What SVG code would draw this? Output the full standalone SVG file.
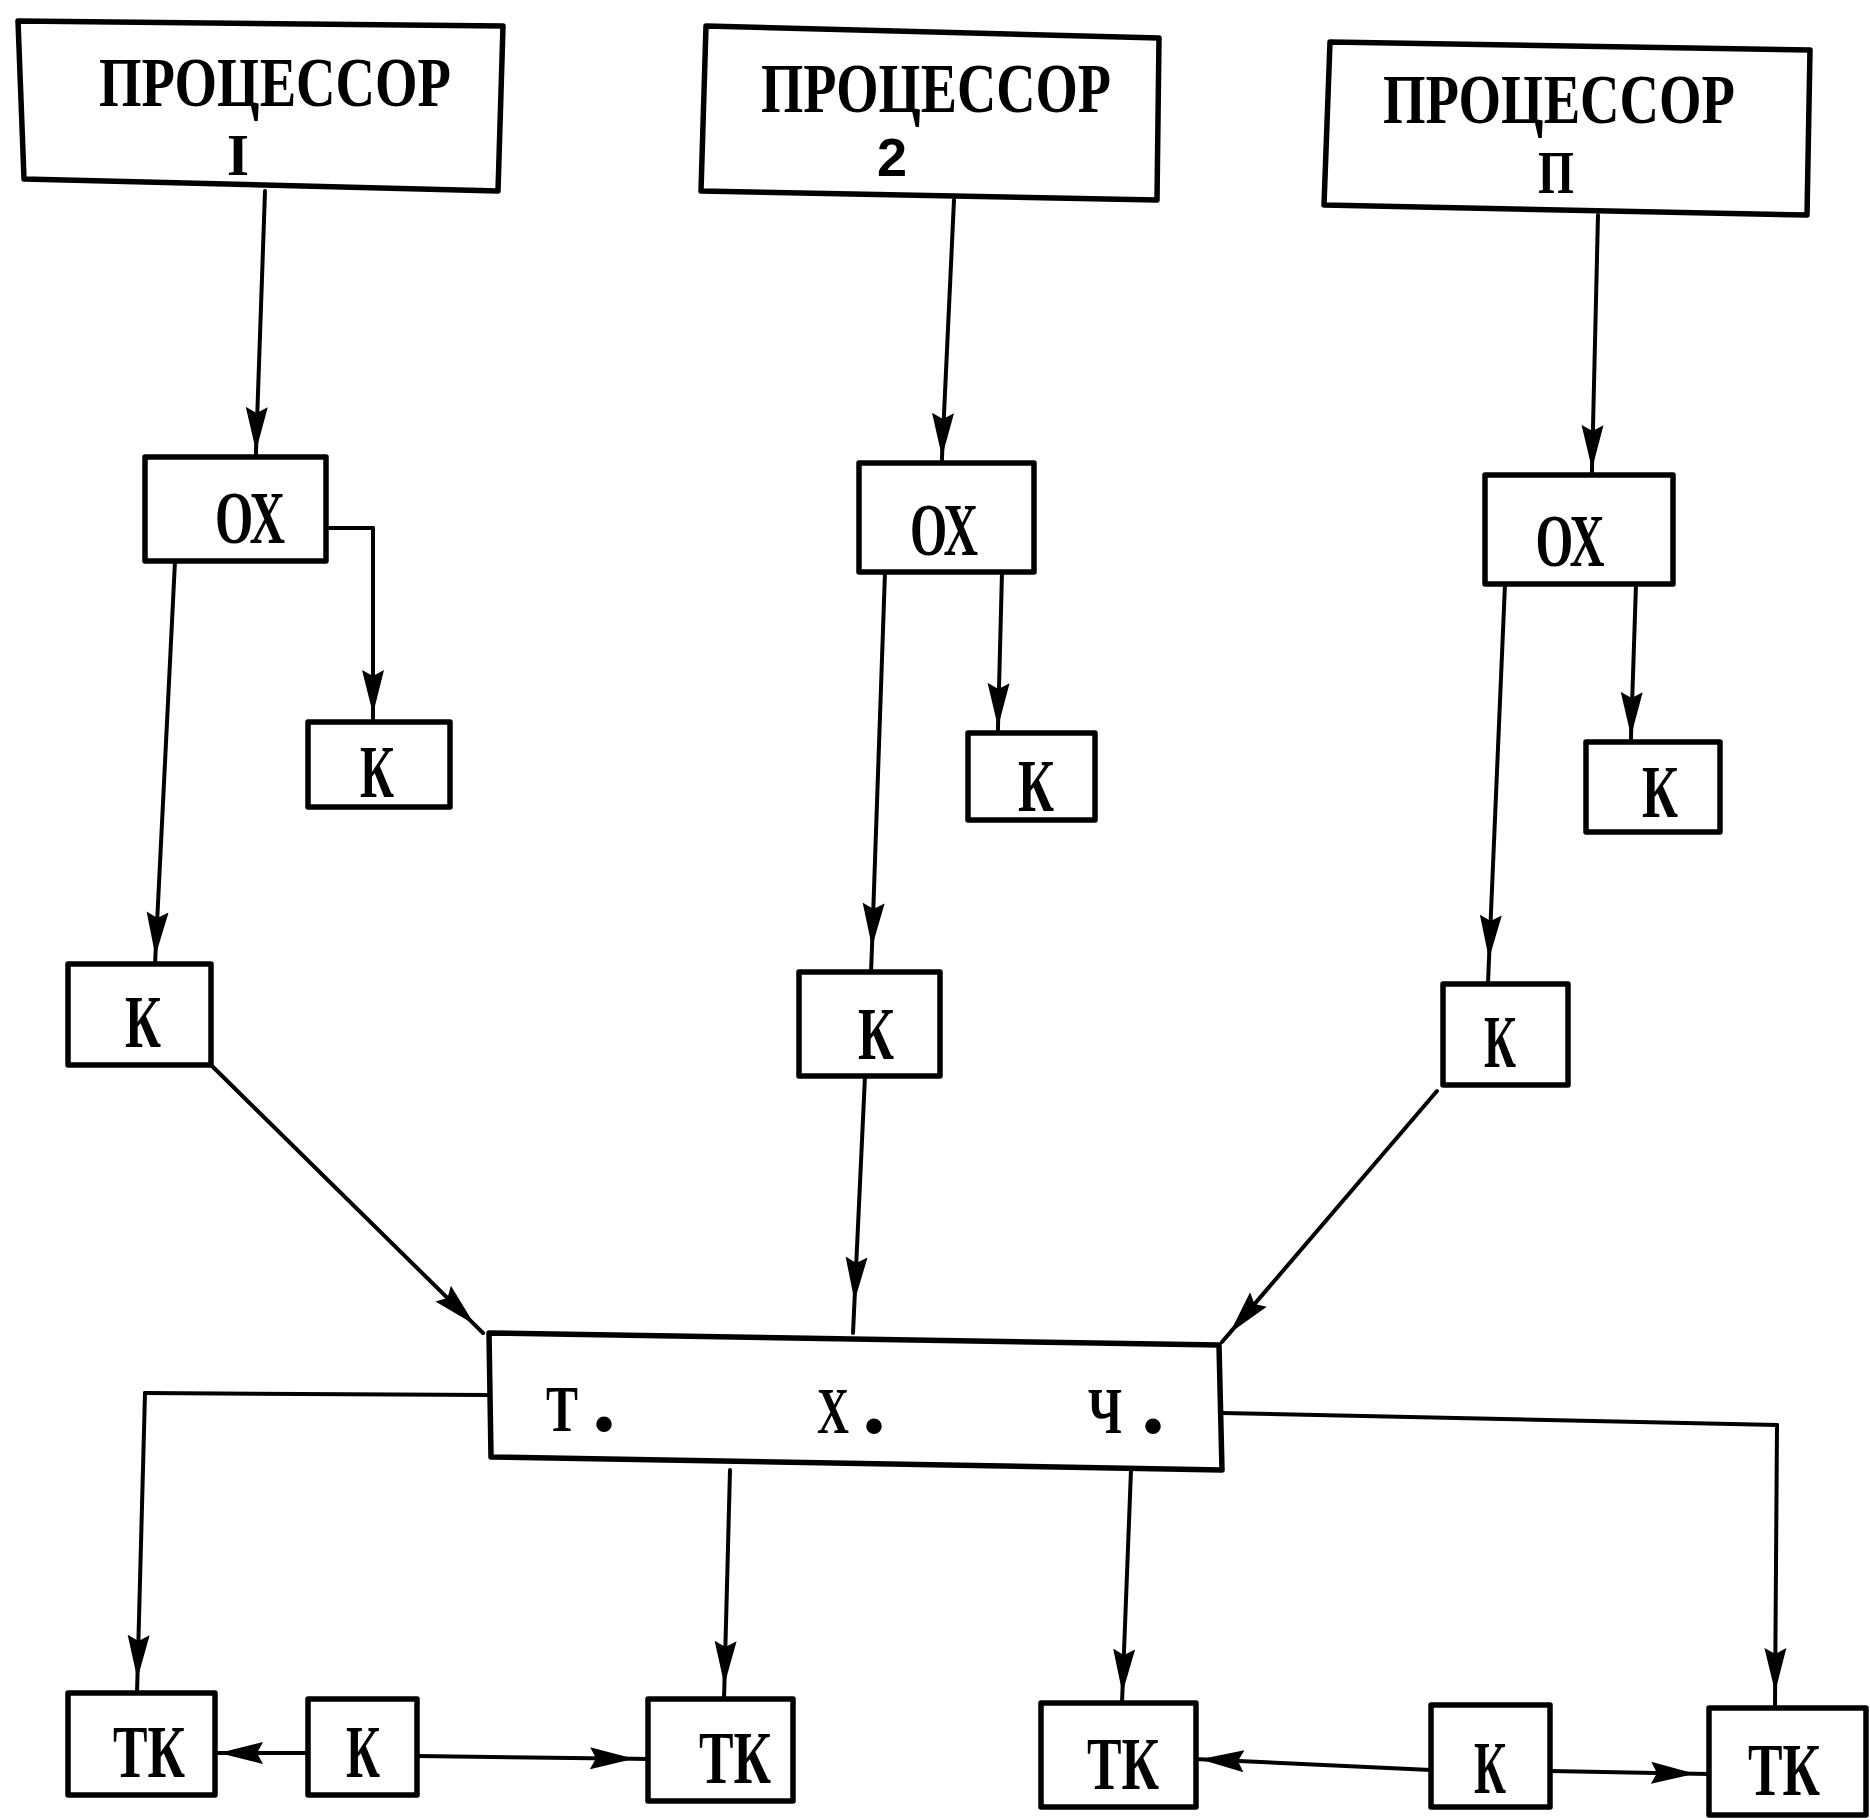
<svg xmlns="http://www.w3.org/2000/svg" width="1870" height="1820" viewBox="0 0 1870 1820">
  <defs>
    <marker id="head" markerUnits="userSpaceOnUse" viewBox="0 -12 44 24" markerWidth="44" markerHeight="24" refX="44" refY="0" orient="auto">
      <path d="M0,-11 L44,0 L0,11 L6,0 Z" fill="#000"/>
    </marker>
    <style>
      .box { fill: #fff; stroke: #000; stroke-width: 5.5; stroke-linejoin: round; }
      .line { fill: none; stroke: #000; stroke-width: 4; stroke-linecap: round; stroke-linejoin: round; }
      .arrow { fill: none; stroke: #000; stroke-width: 4; stroke-linecap: round; marker-mid: url(#head); }
      .lbl { font-family: "Liberation Serif", "DejaVu Serif", serif; font-weight: bold; fill: #000; text-anchor: middle; }
      .big { font-size: 70px; }
      .mid { font-size: 74px; }
      .sw { font-size: 66px; }
      .num { font-family: "Liberation Sans", "DejaVu Sans", sans-serif; font-weight: bold; font-size: 54px; fill: #000; text-anchor: middle; }
      .dot { font-size: 96px; text-anchor: start; }
    </style>
  </defs>

  <!-- processors -->
  <g id="proc1">
    <path class="box" d="M18,21 L503,26 L498,191 L24,179 Z"/>
    <text class="lbl big" x="275" y="106" textLength="352" lengthAdjust="spacingAndGlyphs">ПРОЦЕССОР</text>
    <text class="lbl" font-size="60" x="238" y="175" textLength="22" lengthAdjust="spacingAndGlyphs">I</text>
  </g>
  <g id="proc2">
    <path class="box" d="M706,26 L1159,38 L1157,200 L701,191 Z"/>
    <text class="lbl big" x="936" y="112" textLength="350" lengthAdjust="spacingAndGlyphs">ПРОЦЕССОР</text>
    <text class="num" x="892" y="176">2</text>
  </g>
  <g id="procN">
    <path class="box" d="M1330,42 L1810,50 L1807,215 L1324,205 Z"/>
    <text class="lbl big" x="1559" y="123" textLength="352" lengthAdjust="spacingAndGlyphs">ПРОЦЕССОР</text>
    <text class="lbl" font-size="62" x="1556" y="193" textLength="36" lengthAdjust="spacingAndGlyphs">П</text>
  </g>

  <!-- queues -->
  <g id="ox1">
    <rect class="box" x="145" y="457" width="181" height="104"/>
    <text class="lbl mid" x="250" y="543" textLength="70" lengthAdjust="spacingAndGlyphs">ОХ</text>
  </g>
  <g id="ox2">
    <rect class="box" x="859" y="463" width="175" height="109"/>
    <text class="lbl mid" x="944" y="555" textLength="68" lengthAdjust="spacingAndGlyphs">ОХ</text>
  </g>
  <g id="ox3">
    <rect class="box" x="1485" y="475" width="188" height="109"/>
    <text class="lbl mid" x="1570" y="566" textLength="69" lengthAdjust="spacingAndGlyphs">ОХ</text>
  </g>

  <!-- channels -->
  <g id="k1a">
    <rect class="box" x="308" y="722" width="142" height="85"/>
    <text class="lbl mid" x="377" y="797" textLength="34" lengthAdjust="spacingAndGlyphs">К</text>
  </g>
  <g id="k2a">
    <rect class="box" x="968" y="733" width="127" height="87"/>
    <text class="lbl mid" x="1036" y="811" textLength="36" lengthAdjust="spacingAndGlyphs">К</text>
  </g>
  <g id="k3a">
    <rect class="box" x="1586" y="742" width="134" height="90"/>
    <text class="lbl mid" x="1660" y="817" textLength="36" lengthAdjust="spacingAndGlyphs">К</text>
  </g>
  <g id="k1b">
    <rect class="box" x="68" y="964" width="143" height="101"/>
    <text class="lbl mid" x="143" y="1047" textLength="36" lengthAdjust="spacingAndGlyphs">К</text>
  </g>
  <g id="k2b">
    <rect class="box" x="799" y="972" width="141" height="104"/>
    <text class="lbl mid" x="876" y="1059" textLength="36" lengthAdjust="spacingAndGlyphs">К</text>
  </g>
  <g id="k3b">
    <rect class="box" x="1443" y="984" width="125" height="101"/>
    <text class="lbl mid" x="1500" y="1067" textLength="32" lengthAdjust="spacingAndGlyphs">К</text>
  </g>

  <!-- switch -->
  <g id="switch">
    <path class="box" d="M489,1333 L1219,1345 L1222,1470 L491,1457 Z"/>
    <text class="lbl sw" x="562" y="1431" textLength="32" lengthAdjust="spacingAndGlyphs">Т</text>
    <text class="lbl dot" x="592" y="1431">.</text>
    <text class="lbl sw" x="833" y="1433" textLength="32" lengthAdjust="spacingAndGlyphs">Х</text>
    <text class="lbl dot" x="862" y="1433">.</text>
    <text class="lbl sw" x="1105" y="1433" textLength="34" lengthAdjust="spacingAndGlyphs">Ч</text>
    <text class="lbl dot" x="1141" y="1433">.</text>
  </g>

  <!-- terminal row -->
  <g id="tk1">
    <rect class="box" x="68" y="1693" width="147" height="102"/>
    <text class="lbl mid" x="149" y="1777" textLength="72" lengthAdjust="spacingAndGlyphs">ТК</text>
  </g>
  <g id="kl">
    <rect class="box" x="308" y="1699" width="109" height="96"/>
    <text class="lbl mid" x="363" y="1777" textLength="34" lengthAdjust="spacingAndGlyphs">К</text>
  </g>
  <g id="tk2">
    <rect class="box" x="648" y="1699" width="145" height="102"/>
    <text class="lbl mid" x="735" y="1783" textLength="72" lengthAdjust="spacingAndGlyphs">ТК</text>
  </g>
  <g id="tk3">
    <rect class="box" x="1041" y="1703" width="155" height="104"/>
    <text class="lbl mid" x="1123" y="1789" textLength="72" lengthAdjust="spacingAndGlyphs">ТК</text>
  </g>
  <g id="kr">
    <rect class="box" x="1431" y="1705" width="119" height="102"/>
    <text class="lbl mid" x="1490" y="1793" textLength="32" lengthAdjust="spacingAndGlyphs">К</text>
  </g>
  <g id="tk4">
    <rect class="box" x="1709" y="1708" width="157" height="107"/>
    <text class="lbl mid" x="1784" y="1795" textLength="72" lengthAdjust="spacingAndGlyphs">ТК</text>
  </g>

  <!-- connectors -->
  <g id="connectors">
    <path class="arrow" d="M265,191 L256,451 L256,457"/>
    <path class="arrow" d="M954,200 L942,457 L942,463"/>
    <path class="arrow" d="M1598,215 L1592,469 L1592,475"/>

    <path class="line" d="M326,528 L373,528"/>
    <path class="arrow" d="M373,528 L373,714 L373,722"/>
    <path class="arrow" d="M175,561 L155.4,956 L155,964"/>
    <path class="arrow" d="M1002,572 L998,727 L998,733"/>
    <path class="arrow" d="M885,572 L872,947 L871,972"/>
    <path class="arrow" d="M1636,584 L1631,736 L1631,742"/>
    <path class="arrow" d="M1505,584 L1489,959 L1488,984"/>

    <path class="arrow" d="M211,1065 L474.5,1324.6 L483,1333"/>
    <path class="arrow" d="M865,1076 L854.5,1301 L853,1333"/>
    <path class="arrow" d="M1437,1091 L1229.8,1332.9 L1222,1342"/>

    <path class="line" d="M489,1395 L145,1393"/>
    <path class="arrow" d="M145,1393 L137.4,1679 L137,1693"/>
    <path class="arrow" d="M730,1470 L724.4,1685 L724,1699"/>
    <path class="arrow" d="M1131,1470 L1122.4,1693 L1122,1703"/>
    <path class="line" d="M1222,1413 L1777,1425"/>
    <path class="arrow" d="M1777,1425 L1775.1,1692 L1775,1708"/>

    <path class="arrow" d="M308,1753 L219,1753 L215,1753"/>
    <path class="arrow" d="M417,1756 L634,1758.8 L648,1759"/>
    <path class="arrow" d="M1431,1770 L1200,1759.2 L1196,1759"/>
    <path class="arrow" d="M1550,1771 L1695,1773.7 L1709,1774"/>
  </g>
</svg>
